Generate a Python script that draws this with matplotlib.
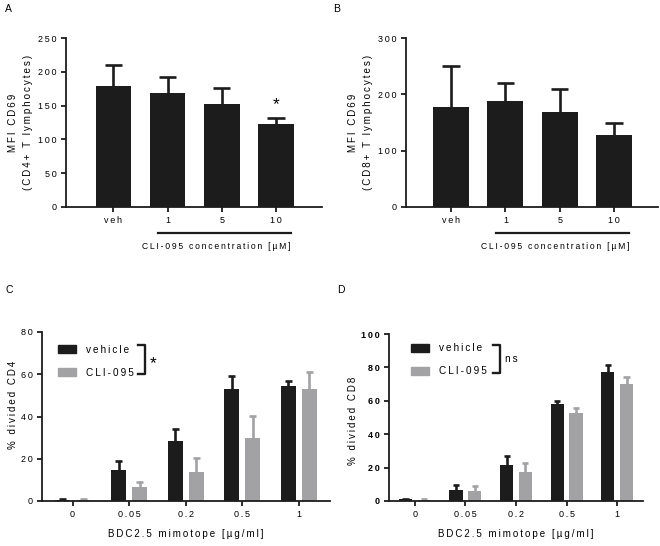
import numpy as np
import matplotlib
matplotlib.use("Agg")
import matplotlib.pyplot as plt
from matplotlib.patches import Patch

plt.rcParams['font.family'] = ['Liberation Sans', 'DejaVu Sans']
plt.rcParams['font.size'] = 7

# panel A / B : CD69 MFI
conc_labels = ['veh', '1', '5', '10']
cd4_mfi = [179, 169, 153, 123]
cd4_err = [31, 24, 23, 9]
cd8_mfi = [178, 189, 168, 127]
cd8_err = [73, 32, 42, 22]

# panel C / D : proliferation
mimo_labels = ['0', '0.05', '0.2', '0.5', '1']
cd4_veh = [0.6, 14.7, 28.3, 53.1, 54.5]
cd4_veh_err = [0.2, 4.4, 5.8, 6.0, 2.3]
cd4_cli = [0.6, 6.8, 13.6, 30.0, 52.8]
cd4_cli_err = [0.2, 2.1, 6.6, 10.2, 8.2]
cd8_veh = [1.0, 6.8, 21.3, 58.0, 77.3]
cd8_veh_err = [0.3, 2.9, 5.7, 2.0, 4.0]
cd8_cli = [0.7, 6.0, 17.5, 52.7, 70.2]
cd8_cli_err = [0.2, 2.7, 5.4, 3.2, 4.0]

BLACK = '#1c1c1c'
GRAY = '#a2a2a4'

fig = plt.figure(figsize=(6.6, 5.46), dpi=100)
W, H = 660, 546


def sp(s):
    # wide letter spacing like the original export
    return '\u2009'.join(s)


def add_ax(l, r, b, t):
    return fig.add_axes([l / W, 1 - b / H, (r - l) / W, (b - t) / H])


def style(ax, bold=False):
    for s in ['top', 'right']:
        ax.spines[s].set_visible(False)
    for s in ['left', 'bottom']:
        ax.spines[s].set_linewidth(1.3)
        ax.spines[s].set_color(BLACK)
    ax.tick_params(width=1.3, length=3.5, color=BLACK, labelsize=6.5, pad=3)
    ax.set_yticklabels([sp(str(int(v))) for v in ax.get_yticks()],
                       fontweight='bold' if bold else 'normal')


def upper_err(ax, x, vals, err, cw, color):
    top = np.array(vals) + np.array(err)
    ax.vlines(x, vals, top, color=color, lw=1.9, zorder=1)
    ax.hlines(top, x - cw, x + cw, color=color, lw=1.9, zorder=1)


def mfi_panel(ax, vals, err, ymax, step, ylab2, xlim, textx):
    x = np.arange(len(vals))
    ax.bar(x, vals, width=0.66, color=BLACK, zorder=2)
    upper_err(ax, x, vals, err, 0.16, BLACK)
    ax.set_xlim(*xlim)
    ax.set_ylim(0, ymax)
    ax.set_yticks(np.arange(0, ymax + 1, step))
    ax.set_xticks(x)
    ax.set_xticklabels([sp(c) for c in conc_labels])
    ax.set_ylabel(sp('MFI CD69') + '\n' + sp(ylab2), fontsize=7,
                  linespacing=1.6, labelpad=4)
    style(ax)
    tr = ax.get_xaxis_transform()
    ax.plot([0.82, 3.27], [-0.154, -0.154], transform=tr, color=BLACK,
            lw=1.6, clip_on=False)
    ax.text(textx, -0.205, sp('CLI-095 concentration [µM]'), transform=tr,
            ha='center', va='top', fontsize=6.2)


axA = add_ax(66, 322, 207, 38)
mfi_panel(axA, cd4_mfi, cd4_err, 250, 50, '(CD4+ T lymphocytes)',
          (-0.876, 3.85), 1.9)
axA.text(3, cd4_mfi[3] + cd4_err[3] + 8, '*', ha='center', va='bottom',
         fontsize=12.5)

axB = add_ax(406, 658, 207, 38)
mfi_panel(axB, cd8_mfi, cd8_err, 300, 100, '(CD8+ T lymphocytes)',
          (-0.83, 3.81), 1.92)


def prolif_panel(ax, veh, veh_err, cli, cli_err, ymax, step, ylab, xlim,
                 leg_xy, ylab_xy, boldy=False):
    x = np.arange(len(veh))
    off = 0.185
    w = 0.26
    ax.bar(x - off, veh, width=w, color=BLACK, zorder=2)
    ax.bar(x + off, cli, width=w, color=GRAY, zorder=2)
    upper_err(ax, x - off, veh, veh_err, 0.062, BLACK)
    upper_err(ax, x + off, cli, cli_err, 0.062, GRAY)
    ax.set_xlim(*xlim)
    ax.set_ylim(0, ymax)
    ax.set_yticks(np.arange(0, ymax + 1, step))
    ax.set_xticks(x)
    ax.set_xticklabels([sp(m) for m in mimo_labels])
    ax.set_ylabel(sp(ylab), fontsize=7, labelpad=4)
    ax.yaxis.set_label_coords(*ylab_xy)
    ax.set_xlabel(sp('BDC2.5 mimotope [µg/ml]'), fontsize=7, labelpad=7)
    style(ax, bold=boldy)
    handles = [Patch(color=BLACK, label=sp('vehicle')),
               Patch(color=GRAY, label=sp('CLI-095'))]
    ax.legend(handles=handles, loc='upper left', bbox_to_anchor=leg_xy,
              frameon=False, fontsize=7.2, handlelength=1.8, handleheight=0.8,
              handletextpad=1.0, labelspacing=1.3, borderaxespad=0,
              borderpad=0)
    return ax


axC = add_ax(42, 330, 501, 332)
prolif_panel(axC, cd4_veh, cd4_veh_err, cd4_cli, cd4_cli_err, 80, 20,
             '% divided CD4', (-0.54, 4.55), (0.056, 0.925), (-0.085, 0.57))
axD = add_ax(389, 643, 501, 334)
prolif_panel(axD, cd8_veh, cd8_veh_err, cd8_cli, cd8_cli_err, 100, 20,
             '% divided CD8', (-0.51, 4.51), (0.087, 0.945), (-0.122, 0.48),
             boldy=True)


def bracket(x0, x1, y0, y1):
    fig.add_artist(plt.Line2D([x0 / W, x1 / W, x1 / W, x0 / W],
                              [1 - y0 / H, 1 - y0 / H, 1 - y1 / H, 1 - y1 / H],
                              color=BLACK, lw=1.7))


bracket(138, 145, 345, 374)
fig.text(150 / W, 1 - 364 / H, '*', fontsize=12.5, va='center', ha='left')
bracket(493, 500, 345, 373)
fig.text(505 / W, 1 - 359 / H, sp('ns'), fontsize=7.2, va='center', ha='left')

for lab, px, py in [('A', 5, 9), ('B', 333, 9), ('C', 5, 290), ('D', 337, 290)]:
    fig.text(px / W, 1 - py / H, lab, fontsize=7.5, va='center', ha='left')

fig.savefig('out.png', dpi=100)
